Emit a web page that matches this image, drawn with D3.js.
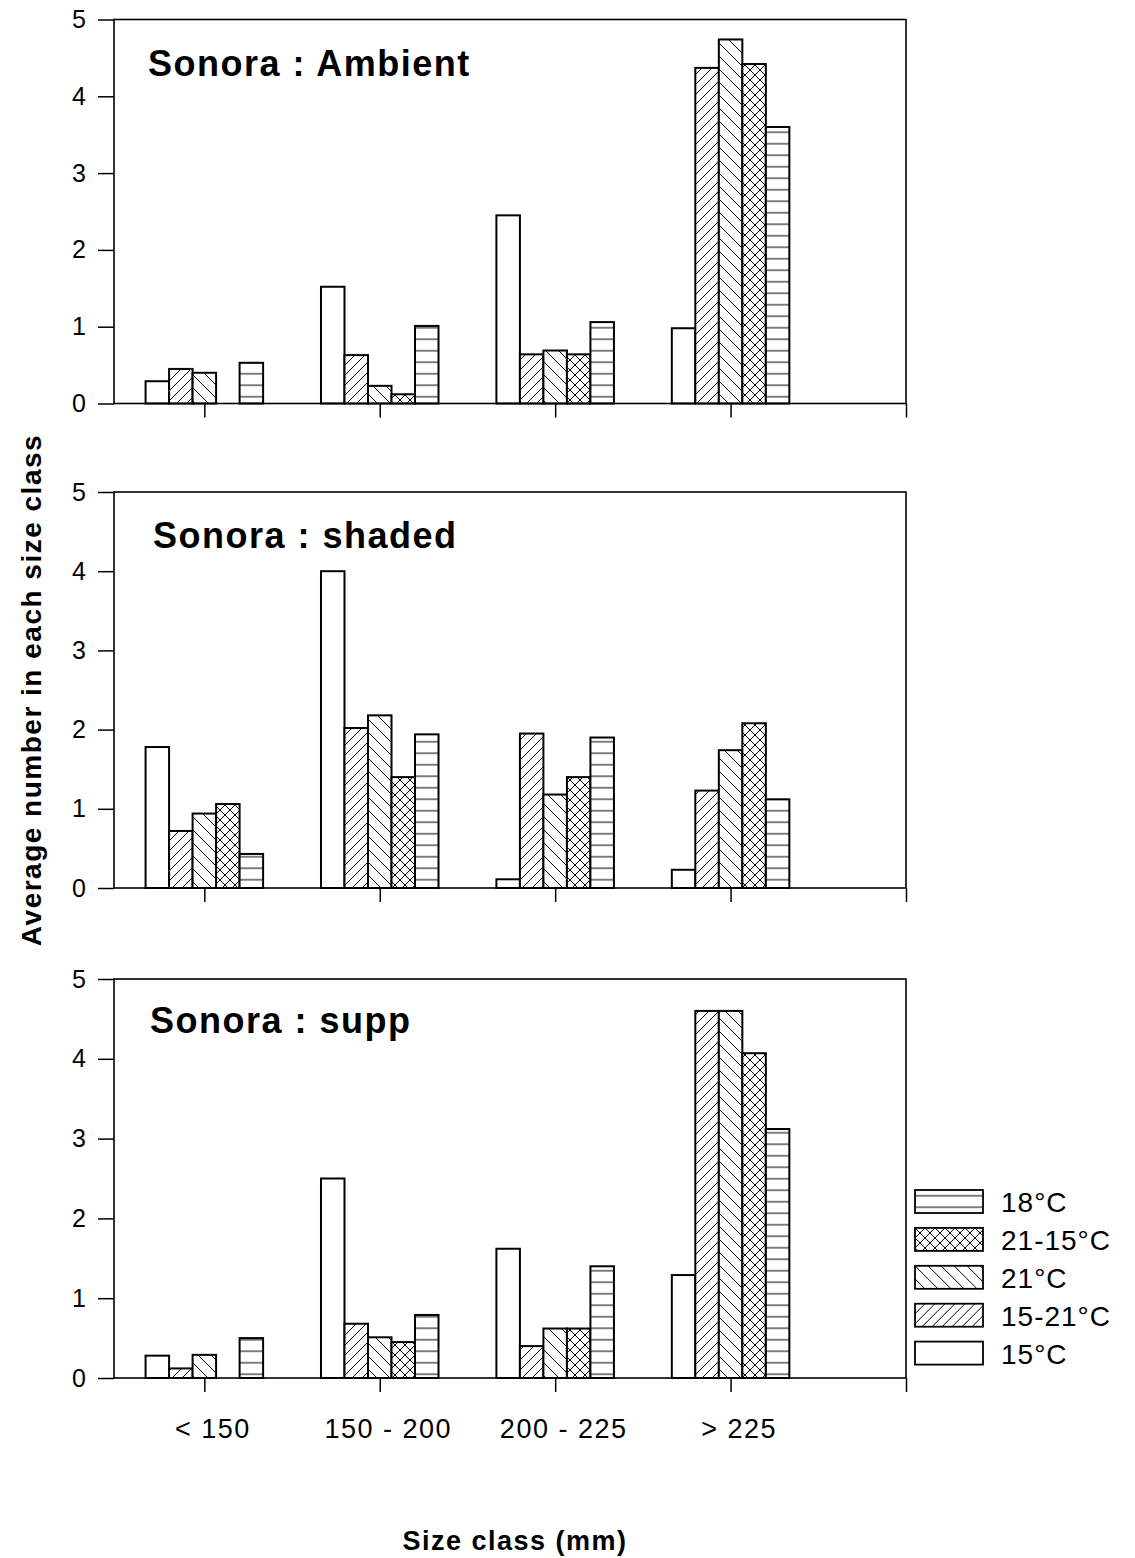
<!DOCTYPE html>
<html>
<head>
<meta charset="utf-8">
<script src="https://cdn.jsdelivr.net/npm/d3@7"></script>
<style>
  body { margin: 0; background: #fff; }
  svg { display: block; font-family: "Liberation Sans", Arial, Helvetica, sans-serif; }
</style>
</head>
<body>
<svg id="chart"></svg>
<script>
// size classes and temperature treatments (order of the bars inside a group)
const categories = ["< 150", "150 - 200", "200 - 225", "> 225"];
const series = ["15°C", "15-21°C", "21°C", "21-15°C", "18°C"];
const legendOrder = ["18°C", "21-15°C", "21°C", "15-21°C", "15°C"];
const panelTitles = ["Sonora : Ambient", "Sonora : shaded", "Sonora : supp"];
const yTicks = [0, 1, 2, 3, 4, 5];

// values per series (rows follow `series`), columns follow `categories`
const ambient = [
  [0.29, 1.52, 2.45, 0.98],
  [0.45, 0.63, 0.64, 4.37],
  [0.40, 0.23, 0.69, 4.74],
  [0.00, 0.12, 0.64, 4.42],
  [0.53, 1.01, 1.06, 3.60]
];
const shaded = [
  [1.78, 4.00, 0.11, 0.23],
  [0.72, 2.02, 1.95, 1.23],
  [0.94, 2.18, 1.18, 1.74],
  [1.06, 1.40, 1.40, 2.08],
  [0.43, 1.94, 1.90, 1.12]
];
const supp = [
  [0.28, 2.50, 1.62, 1.29],
  [0.12, 0.68, 0.40, 4.60],
  [0.29, 0.51, 0.62, 4.60],
  [0.00, 0.45, 0.62, 4.07],
  [0.50, 0.79, 1.40, 3.12]
];
const panelData = [ambient, shaded, supp];

const W = 1135, H = 1558;
const svg = d3.select("#chart").attr("width", W).attr("height", H);

// pixel layout of the three stacked panels
const left = 114, right = 906;
const panelBox = [
  { top: 19.5, bottom: 403.5, tx: 148, ty: 56 },
  { top: 492, bottom: 888, tx: 153, ty: 56 },
  { top: 979, bottom: 1378, tx: 150, ty: 54 }
];

// x: group index, 4 is the unlabeled tick at the right end
const x = d3.scaleLinear().domain([-0.515, 4]).range([left, right]);
const barW = (x(1) - x(0)) * 0.134;

// ---------- hatch patterns ----------
const defs = svg.append("defs");
function hatch(id, size, lines) {
  const p = defs.append("pattern")
    .attr("id", id)
    .attr("patternUnits", "userSpaceOnUse")
    .attr("width", size).attr("height", size);
  p.append("rect").attr("width", size).attr("height", size).attr("fill", "#fff");
  lines.forEach(l => p.append("path").attr("d", l)
    .attr("stroke", "#000").attr("stroke-width", 1).attr("fill", "none"));
}
hatch("p-fwd", 10, ["M0,10 L10,0", "M-1,1 L1,-1", "M9,11 L11,9"]);
hatch("p-back", 13, ["M0,0 L13,13", "M-1,12 L1,14", "M12,-1 L14,1"]);
hatch("p-cross", 10, ["M0,10 L10,0", "M-1,1 L1,-1", "M9,11 L11,9", "M0,0 L10,10", "M-1,9 L1,11", "M9,-1 L11,1"]);
hatch("p-horiz", 11.5, ["M0,5.75 L11.5,5.75"]);

const fill = d3.scaleOrdinal()
  .domain(series)
  .range(["#fff", "url(#p-fwd)", "url(#p-back)", "url(#p-cross)", "url(#p-horiz)"]);

// ---------- panels ----------
panelData.forEach((vals, pi) => {
  const box = panelBox[pi];
  const y = d3.scaleLinear().domain([0, 5]).range([box.bottom, box.top]);
  const g = svg.append("g").attr("class", "panel");

  // bars
  series.forEach((s, si) => {
    g.selectAll(".bar-" + si)
      .data(vals[si].map((v, ci) => ({ v, ci })).filter(d => d.v > 0))
      .enter()
      .append("rect")
      .attr("x", d => x(d.ci) + (si - 2.5) * barW)
      .attr("y", d => y(d.v))
      .attr("width", barW)
      .attr("height", d => y(0) - y(d.v))
      .attr("fill", fill(s))
      .attr("stroke", "#000")
      .attr("stroke-width", 2);
  });

  // frame
  g.append("rect")
    .attr("x", left).attr("y", box.top)
    .attr("width", right - left).attr("height", box.bottom - box.top)
    .attr("fill", "none").attr("stroke", "#000").attr("stroke-width", 1.6);

  // left axis
  const ya = g.append("g")
    .attr("transform", `translate(${left},0)`)
    .call(d3.axisLeft(y).tickValues(yTicks).tickSize(16).tickSizeOuter(0).tickPadding(12).tickFormat(d3.format("d")));
  ya.select(".domain").remove();
  ya.selectAll("line").attr("stroke-width", 1.5);
  ya.selectAll("text").style("font-size", "25px").attr("fill", "#000");

  // bottom axis
  const xa = g.append("g")
    .attr("transform", `translate(0,${box.bottom})`)
    .call(d3.axisBottom(x).tickValues([0, 1, 2, 3, 4]).tickSize(14).tickSizeOuter(0).tickPadding(27)
      .tickFormat(i => pi === 2 && i < 4 ? categories[i] : ""));
  xa.select(".domain").remove();
  xa.selectAll("line").attr("stroke-width", 1.5);
  xa.selectAll("text")
    .attr("dx", 8)
    .style("font-size", "27px").style("letter-spacing", "1.5px").attr("fill", "#000");

  // panel title
  g.append("text")
    .attr("x", box.tx)
    .attr("y", box.top + box.ty)
    .text(panelTitles[pi])
    .style("font-size", "36px")
    .style("letter-spacing", "1.5px")
    .style("font-weight", "bold");
});

// ---------- axis titles ----------
svg.append("text")
  .attr("transform", "translate(41,690) rotate(-90)")
  .attr("text-anchor", "middle")
  .text("Average number in each size class")
  .style("font-size", "28px")
  .style("letter-spacing", "1.5px")
  .style("font-weight", "bold");

svg.append("text")
  .attr("x", 515).attr("y", 1550)
  .attr("text-anchor", "middle")
  .text("Size class (mm)")
  .style("font-size", "27px")
  .style("letter-spacing", "1.5px")
  .style("font-weight", "bold");

// ---------- legend ----------
const legend = svg.append("g").attr("transform", "translate(915,1190)");
const item = legend.selectAll(".legend-item")
  .data(legendOrder)
  .enter()
  .append("g")
  .attr("class", "legend-item")
  .attr("transform", (d, i) => `translate(0,${i * 37.9})`);
item.append("rect")
  .attr("width", 68).attr("height", 23)
  .attr("fill", d => fill(d))
  .attr("stroke", "#000").attr("stroke-width", 1.8);
item.append("text")
  .attr("x", 86).attr("y", 22)
  .text(d => d)
  .style("font-size", "28px")
  .style("letter-spacing", "1px");
</script>
</body>
</html>
